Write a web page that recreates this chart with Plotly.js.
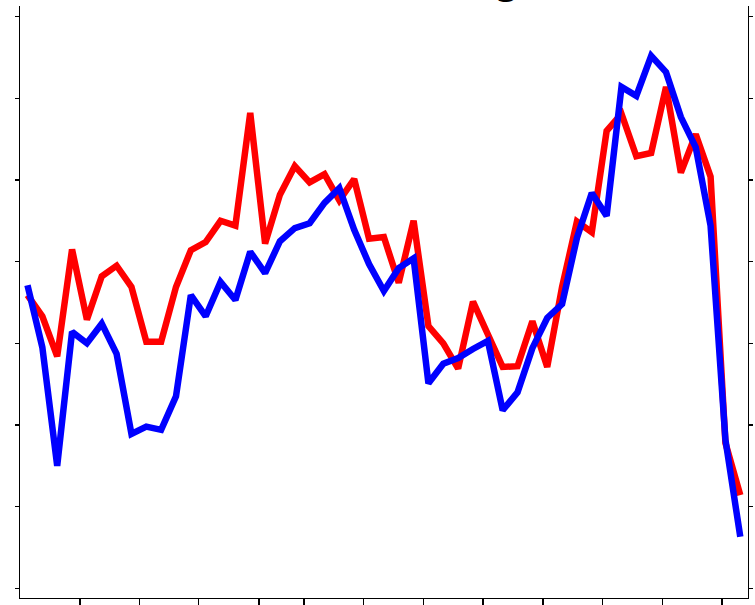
<!DOCTYPE html>
<html>
<head>
<meta charset="utf-8">
<script src="https://cdn.plot.ly/plotly-3.0.1.min.js"></script>
<style>
  html, body { margin: 0; padding: 0; overflow: hidden; background: #ffffff; }
  #chart { position: absolute; left: 0; top: -60px; width: 755px; height: 665px; }
</style>
</head>
<body>
<div id="chart"></div>
<script>
// Chart data
const titleText = "Voter Polling";
const xPoints = [0, 1, 2, 3, 4, 5, 6, 7, 8, 9, 10, 11, 12, 13, 14, 15, 16, 17, 18, 19,
                 20, 21, 22, 23, 24, 25, 26, 27, 28, 29, 30, 31, 32, 33, 34, 35, 36, 37, 38, 39,
                 40, 41, 42, 43, 44, 45, 46, 47, 48];
const redSeries = [3.59, 3.33, 2.84, 4.15, 3.29, 3.82, 3.95, 3.69, 3.02, 3.02,
                   3.69, 4.14, 4.24, 4.50, 4.44, 5.82, 4.22, 4.82, 5.17, 4.97,
                   5.07, 4.75, 5.01, 4.28, 4.30, 3.74, 4.50, 3.21, 3.00, 2.69,
                   3.51, 3.10, 2.71, 2.72, 3.27, 2.71, 3.69, 4.49, 4.36, 5.60,
                   5.81, 5.29, 5.33, 6.14, 5.09, 5.56, 5.04, 1.78, 1.14];
const blueSeries = [3.71, 2.95, 1.50, 3.14, 3.00, 3.24, 2.87, 1.89, 1.98, 1.94,
                    2.35, 3.59, 3.33, 3.75, 3.53, 4.12, 3.86, 4.25, 4.41, 4.47,
                    4.72, 4.90, 4.39, 3.97, 3.64, 3.92, 4.04, 2.51, 2.75, 2.82,
                    2.93, 3.03, 2.18, 2.40, 2.94, 3.31, 3.48, 4.29, 4.84, 4.56,
                    6.14, 6.03, 6.52, 6.32, 5.77, 5.40, 4.44, 1.82, 0.63];
const xTickPositions = [-0.55, 3.53, 7.54, 11.54, 15.59, 18.62, 22.63, 26.67, 30.67, 34.71, 38.73, 42.77, 46.77];
const yTickPositions = [0, 1, 2, 3, 4, 5, 6, 7];

const traces = [
  { x: xPoints, y: redSeries, type: "scatter", mode: "lines",
    line: { color: "#ff0000", width: 6.5 }, hoverinfo: "skip" },
  { x: xPoints, y: blueSeries, type: "scatter", mode: "lines",
    line: { color: "#0000ff", width: 6.5 }, hoverinfo: "skip" }
];

const layout = {
  width: 755, height: 665,
  margin: { l: 20, r: 7, t: 66, b: 7, pad: 0 },
  paper_bgcolor: "#ffffff", plot_bgcolor: "#ffffff",
  showlegend: false,
  title: { text: titleText, font: { family: "DejaVu Sans", size: 44, color: "#000000" },
           x: 0.5, xref: "paper", xanchor: "center",
           y: 1 - 53 / 665, yref: "container", yanchor: "bottom" },
  xaxis: { range: [-0.505, 48.52], showgrid: false, zeroline: false,
           showline: true, linecolor: "#000000", linewidth: 1.2, mirror: false,
           ticks: "outside", ticklen: 8, tickwidth: 1.2, tickcolor: "#000000",
           tickmode: "array", tickvals: xTickPositions, showticklabels: false, fixedrange: true },
  yaxis: { range: [-0.119, 7.13], showgrid: false, zeroline: false,
           showline: true, linecolor: "#000000", linewidth: 1.2, mirror: "ticks",
           ticks: "outside", ticklen: 4, tickwidth: 1.2, tickcolor: "#000000",
           tickmode: "array", tickvals: yTickPositions, showticklabels: false, fixedrange: true }
};

Plotly.newPlot("chart", traces, layout, { staticPlot: true, displayModeBar: false });
</script>
</body>
</html>
